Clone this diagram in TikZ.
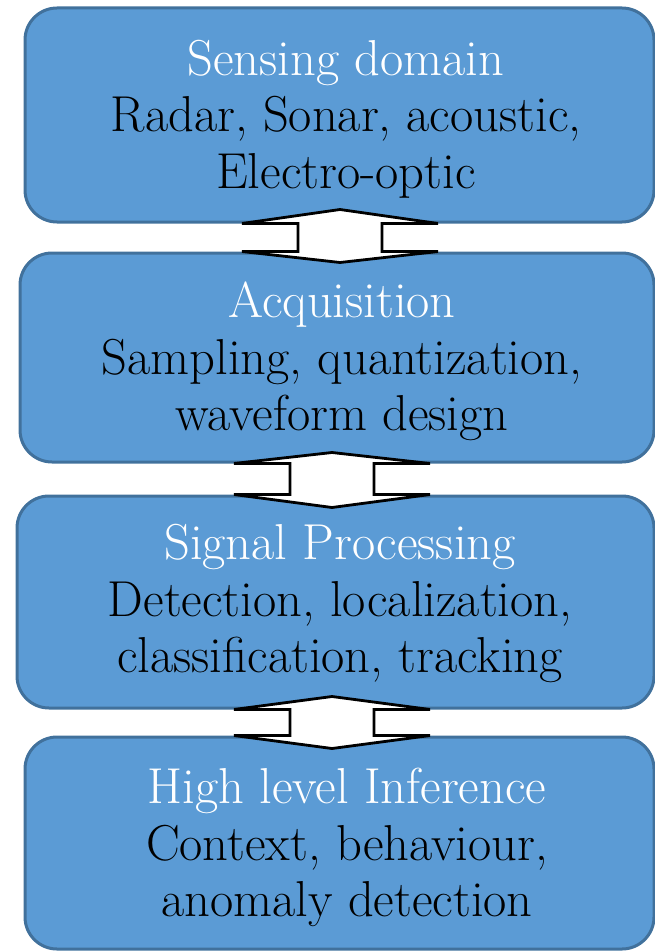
\documentclass[tikz,border=0pt]{standalone}
\usepackage{tikz}
\usetikzlibrary{calc}

\definecolor{boxfill}{HTML}{5B9BD5}
\definecolor{boxline}{HTML}{41719C}

\begin{document}
\begin{tikzpicture}[
        x=1pt, y=-1pt,
        StageBox/.style={
            draw=boxline,
            fill=boxfill,
            line width=3pt,
            rounded corners=32pt,
            inner sep=0pt
        },
        StageTxt/.style={
            align=center,
            font=\fontsize{50.5}{56.5}\selectfont
        },
        DblArrow/.style={
            draw=black,
            fill=white,
            line width=2.8pt,
            line join=miter
        }
    ]
    \useasboundingbox (0,0) rectangle (655,952);

    % stages
    \node[StageBox, minimum width=629pt, minimum height=214pt] (sense) at (339.5,115) {};
    \node[StageBox, minimum width=634pt, minimum height=209pt] (acq) at (337,357.5) {};
    \node[StageBox, minimum width=637pt, minimum height=212pt] (sig) at (335.5,602) {};
    \node[StageBox, minimum width=629pt, minimum height=212pt] (inf) at (339.5,843) {};

    \node[StageTxt] (senseTxt) at (346,119) {\textcolor{white}{Sensing domain}\\Radar, Sonar, acoustic,\\Electro-optic};
    \node[StageTxt] (acqTxt) at (342,361.5) {\textcolor{white}{Acquisition}\\Sampling, quantization,\\waveform design};
    \node[StageTxt] (sigTxt) at (340,603.5) {\textcolor{white}{Signal Processing}\\Detection, localization,\\classification, tracking};
    \node[StageTxt] (infTxt) at (347,847.5) {\textcolor{white}{High level Inference}\\Context, behaviour,\\anomaly detection};

    % arrow sensing <-> acquisition
    \coordinate (T1) at (340,0 |- sense.south);
    \coordinate (B1) at (340,0 |- acq.north);
    \draw[DblArrow] ([xshift=-42pt]T1)--++(-56,0)--++(98,-14)--++(98,14)--++(-56,0)
        --([xshift=42pt]B1)--++(56,0)--++(-98,11)--++(-98,-11)--++(56,0)--cycle;

    % arrow acquisition <-> signal processing
    \coordinate (T2) at (332,0 |- acq.south);
    \coordinate (B2) at (332,0 |- sig.north);
    \draw[DblArrow] ([xshift=-42pt]T2)--++(-56,0)--++(98,-11)--++(98,11)--++(-56,0)
        --([xshift=42pt]B2)--++(56,0)--++(-98,13)--++(-98,-13)--++(56,0)--cycle;

    % arrow signal processing <-> inference
    \coordinate (T3) at (332,0 |- sig.south);
    \coordinate (B3) at (332,0 |- inf.north);
    \draw[DblArrow] ([xshift=-42pt]T3)--++(-56,0)--++(98,-13)--++(98,13)--++(-56,0)
        --([xshift=42pt]B3)--++(56,0)--++(-98,13)--++(-98,-13)--++(56,0)--cycle;

\end{tikzpicture}
\end{document}
